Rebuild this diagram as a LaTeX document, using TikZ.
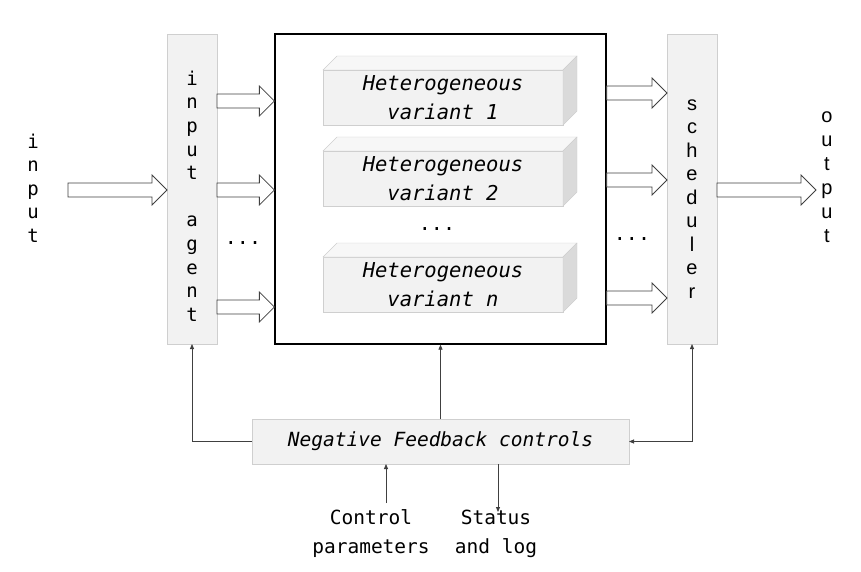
\documentclass[tikz,border=0pt]{standalone}
\usepackage{fontspec}
\setmainfont{DejaVu Sans Mono}
\newfontfamily\sansfont{Liberation Sans}
\usetikzlibrary{arrows.meta, calc, positioning}
\definecolor{boxfill}{HTML}{F2F2F2}
\definecolor{boxline}{HTML}{CFCFCF}
\definecolor{sidefill}{HTML}{DADADA}
\definecolor{topfill}{HTML}{F7F7F7}
\definecolor{arrowline}{HTML}{404040}
\tikzset{
  greybox/.style={
    draw=boxline,
    fill=boxfill,
    inner sep=0pt,
    outer sep=0pt
  },
  varbox/.style={
    greybox,
    minimum width=240pt,
    minimum height=55pt,
    align=center,
    font=\fontsize{20.5}{29}\selectfont\itshape
  },
  barbox/.style={
    greybox,
    minimum width=50pt,
    minimum height=310pt
  },
  vtext/.style={
    align=center,
    inner sep=0pt,
    font=\fontsize{19}{23.6}\selectfont
  },
  fatarrow/.style={
    draw=arrowline,
    fill=white,
    line width=0.8pt,
    line join=miter
  },
  thin/.style={
    draw=arrowline,
    line width=0.8pt
  },
  >={Triangle[length=5pt,width=4pt]}
}
% hollow block arrow from node #1 to node #2, at height #3
\newcommand\FatArrow[3]{%
  \draw[fatarrow] let \p1=(#1), \p2=(#2), \p3=(0,#3) in
    (\x1,\y3+7pt) -- (\x2-15pt,\y3+7pt) -- (\x2-15pt,\y3+15pt) -- (\x2,\y3)
    -- (\x2-15pt,\y3-15pt) -- (\x2-15pt,\y3-7pt) -- (\x1,\y3-7pt) -- cycle;}

\begin{document}
\begin{tikzpicture}[x=1pt, y=-1pt]
\useasboundingbox (0,0) rectangle (861,572);

\node[draw=black, line width=1.3pt, inner sep=0pt, minimum width=331pt, minimum height=310pt] (main) at (440.5,189) {};
\node[barbox] (agent) at (192,189) {};
\node[barbox] (sched) at (692,189) {};

\node[vtext] (intext) at (33,188) {i\\n\\p\\u\\t};
\node[vtext] (agenttext) at (192,196) {i\\n\\p\\u\\t\\[23.6pt]a\\g\\e\\n\\t};
\node[vtext, font=\fontsize{20}{23.5}\sansfont] (schedtext) at (692,199) {s\\c\\h\\e\\d\\u\\l\\e\\r};
\node[vtext, font=\fontsize{20}{24}\sansfont] (outtext) at (827,177) {o\\u\\t\\p\\u\\t};

\node[varbox] (var1) at (443,97.5) {Heterogeneous\\variant 1};
\node[varbox] (var2) at (443,178.5) {Heterogeneous\\variant 2};
\node[varbox] (var3) at (443,284.5) {Heterogeneous\\variant n};
\foreach \v in {var1,var2,var3}{
  \draw[draw=boxline, fill=topfill] (\v.north west) -- ++(14,-14) -- ([shift={(14,-14)}]\v.north east) -- (\v.north east) -- cycle;
  \draw[draw=boxline, fill=sidefill] (\v.north east) -- ++(14,-14) -- ([shift={(14,-14)}]\v.south east) -- (\v.south east) -- cycle;
}

\node[inner sep=0pt, font=\fontsize{20}{20}\selectfont] (vdots) at (437,229) {...};
\node[inner sep=0pt, font=\fontsize{20}{20}\selectfont] (ldots) at (243,243) {...};
\node[inner sep=0pt, font=\fontsize{20}{20}\selectfont] (rdots) at (632,239) {...};

\node[greybox, minimum width=377pt, minimum height=45pt, font=\fontsize{19.5}{20}\selectfont\itshape] (fb) at (440.5,441.5) {Negative Feedback controls};

\coordinate (inpt) at (68,190);
\coordinate (outpt) at (816,190);
\FatArrow{inpt}{agent.west}{190}
\FatArrow{sched.east}{outpt}{190}
\foreach \h in {101,190,307}{
  \FatArrow{agent.east}{main.west}{\h}
}
\foreach \h in {93,180,298}{
  \FatArrow{main.east}{sched.west}{\h}
}

\draw[thin, ->] (fb.west) -| (agent.south);
\draw[thin, ->] (fb.north) -- (main.south);
\draw[thin, <->] (fb.east) -| (sched.south);

\coordinate (ctrl) at (386,503);
\coordinate (stat) at (498,512);
\draw[thin, ->] (ctrl) -- (ctrl |- fb.south);
\draw[thin, ->] (stat |- fb.south) -- (stat);
\node[align=center, inner sep=0pt, font=\fontsize{19.5}{29}\selectfont] (ctrltext) at (371,534) {Control\\parameters};
\node[align=center, inner sep=0pt, font=\fontsize{19.5}{29}\selectfont] (stattext) at (496,534) {Status\\and log};
\end{tikzpicture}
\end{document}
